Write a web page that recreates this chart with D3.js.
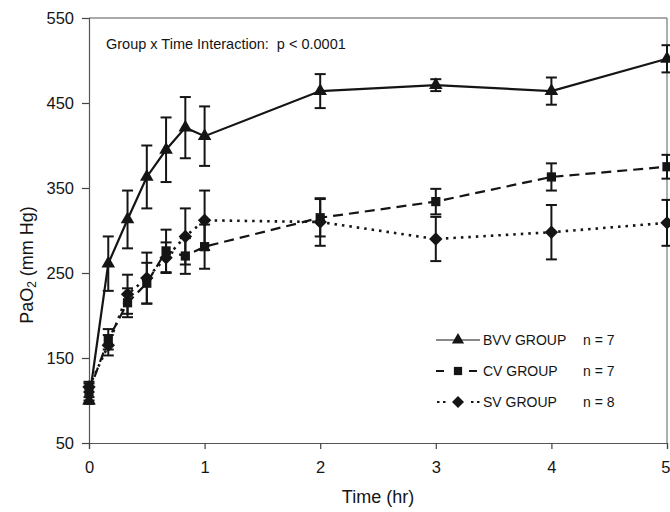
<!DOCTYPE html>
<html>
<head>
<meta charset="utf-8">
<script src="https://cdn.jsdelivr.net/npm/d3@7"></script>
<style>
  body { margin: 0; background: #fff; }
  svg { display: block; font-family: Arial, "Liberation Sans", sans-serif; }
</style>
</head>
<body>
<svg id="chart" width="670" height="512"></svg>
<script>
const times = [0, 1/6, 1/3, 0.5, 2/3, 5/6, 1, 2, 3, 4, 5];
const bvv    = [100, 261, 313, 363, 395, 421, 411, 464, 471, 464, 502];
const bvvErr = [4, 32, 34, 37, 38, 36, 35, 20, 7, 16, 16];
const cv     = [110, 172, 215, 238, 276, 270, 281, 315, 334, 363, 375];
const cvErr  = [10, 12, 17, 24, 25, 21, 26, 22, 15, 16, 14];
const sv     = [116, 165, 225, 244, 268, 293, 312, 310, 290, 298, 309];
const svErr  = [6, 12, 23, 30, 18, 33, 35, 28, 26, 32, 27];
const xTicks = [0, 1, 2, 3, 4, 5];
const yTicks = [50, 150, 250, 350, 450, 550];
const seriesNames = ["BVV GROUP", "CV GROUP", "SV GROUP"];
const seriesN = ["n = 7", "n = 7", "n = 8"];
const annotation = "Group x Time Interaction:  p < 0.0001";

const svg = d3.select("#chart");
const x = d3.scaleLinear().domain([0, 5]).range([89, 667]);
const y = d3.scaleLinear().domain([50, 550]).range([443, 18]);
const ink = "#151515";

// frame
svg.append("line").attr("x1", x(0)).attr("x2", x(5)).attr("y1", y(550)).attr("y2", y(550))
  .attr("stroke", "#555").attr("stroke-width", 1);
svg.append("line").attr("x1", x(5)).attr("x2", x(5)).attr("y1", y(550)).attr("y2", y(50))
  .attr("stroke", "#777").attr("stroke-width", 1.2);

// axes
const yAxis = svg.append("g").attr("transform", `translate(${x(0)},0)`)
  .call(d3.axisLeft(y).tickValues(yTicks).tickFormat(d3.format("d")).tickSize(7).tickPadding(8));
const xAxis = svg.append("g").attr("transform", `translate(0,${y(50)})`)
  .call(d3.axisBottom(x).tickValues(xTicks).tickFormat(d3.format("d")).tickSize(6).tickPadding(12));
[yAxis, xAxis].forEach(g => {
  g.select(".domain").attr("stroke", "#555").attr("stroke-width", 1.2);
  g.selectAll(".tick line").attr("stroke", "#444").attr("stroke-width", 1.2);
  g.selectAll(".tick text").attr("fill", ink).attr("font-size", 16.5)
    .attr("font-family", "Arial, 'Liberation Sans', sans-serif");
});
// keep the last x label inside the picture, as in the reference it sits at the edge
xAxis.selectAll(".tick text").filter(d => d === 5).attr("text-anchor", "end").attr("dx", 3);

// axis titles
svg.append("text").attr("x", 378).attr("y", 503).attr("text-anchor", "middle")
  .attr("font-size", 18).attr("fill", ink).text("Time (hr)");
const yl = svg.append("text").attr("transform", "translate(33,265) rotate(-90)")
  .attr("text-anchor", "middle").attr("font-size", 18).attr("fill", ink);
yl.append("tspan").text("PaO");
yl.append("tspan").attr("font-size", 12).attr("dy", 3).text("2");
yl.append("tspan").attr("dy", -3).text(" (mm Hg)");

// annotation
svg.append("text").attr("x", 106).attr("y", 49).attr("font-size", 14.5).attr("fill", ink)
  .style("white-space", "pre").text(annotation);

const rhombus = {
  draw(ctx, size) {
    const r = Math.sqrt(size / 2);
    ctx.moveTo(0, -r); ctx.lineTo(r, 0); ctx.lineTo(0, r); ctx.lineTo(-r, 0); ctx.closePath();
  }
};

const series = [
  { vals: bvv, err: bvvErr, dash: null, width: 2.2, shape: d3.symbolTriangle, size: 80 },
  { vals: cv, err: cvErr, dash: "10,6", width: 2.2, shape: d3.symbolSquare, size: 85 },
  { vals: sv, err: svErr, dash: "2.5,5", width: 2.6, shape: rhombus, size: 90 }
];

const line = d3.line().x(d => x(d[0])).y(d => y(d[1]));

series.forEach(s => {
  const pts = times.map((t, i) => [t, s.vals[i]]);
  svg.append("path").datum(pts).attr("d", line).attr("fill", "none")
    .attr("stroke", ink).attr("stroke-width", s.width)
    .attr("stroke-dasharray", s.dash);
});

series.forEach(s => {
  const g = svg.append("g");
  times.forEach((t, i) => {
    const cx = x(t), top = y(s.vals[i] + s.err[i]), bot = y(s.vals[i] - s.err[i]);
    g.append("line").attr("x1", cx).attr("x2", cx).attr("y1", top).attr("y2", bot)
      .attr("stroke", ink).attr("stroke-width", 2);
    [top, bot].forEach(yy => g.append("line").attr("x1", cx - 5.5).attr("x2", cx + 5.5)
      .attr("y1", yy).attr("y2", yy).attr("stroke", ink).attr("stroke-width", 2));
  });
});

series.forEach(s => {
  svg.append("g").selectAll("path").data(times.map((t, i) => [t, s.vals[i]])).join("path")
    .attr("transform", d => `translate(${x(d[0])},${y(d[1])})`)
    .attr("d", d3.symbol().type(s.shape).size(s.size)).attr("fill", ink);
});

// legend
const legY = [340, 371, 402];
series.forEach((s, i) => {
  const g = svg.append("g").attr("transform", `translate(0,${legY[i]})`);
  if (i === 0) {
    g.append("line").attr("x1", 436).attr("x2", 480).attr("y1", 0).attr("y2", 0)
      .attr("stroke", ink).attr("stroke-width", 1.2);
  } else if (i === 1) {
    [[436, 444], [469, 477]].forEach(p => g.append("line").attr("x1", p[0]).attr("x2", p[1])
      .attr("y1", 0).attr("y2", 0).attr("stroke", ink).attr("stroke-width", 2));
  } else {
    [437, 443, 471, 477].forEach(px => g.append("line").attr("x1", px).attr("x2", px + 2.5)
      .attr("y1", 0).attr("y2", 0).attr("stroke", ink).attr("stroke-width", 2));
  }
  g.append("path").attr("transform", "translate(458,0)")
    .attr("d", d3.symbol().type(s.shape).size(s.size * 0.8)).attr("fill", ink);
  g.append("text").attr("x", 483).attr("y", 5).attr("font-size", 14)
    .attr("fill", ink).text(seriesNames[i]);
  g.append("text").attr("x", 583).attr("y", 5).attr("font-size", 14)
    .attr("fill", ink).text(seriesN[i]);
});
</script>
</body>
</html>
